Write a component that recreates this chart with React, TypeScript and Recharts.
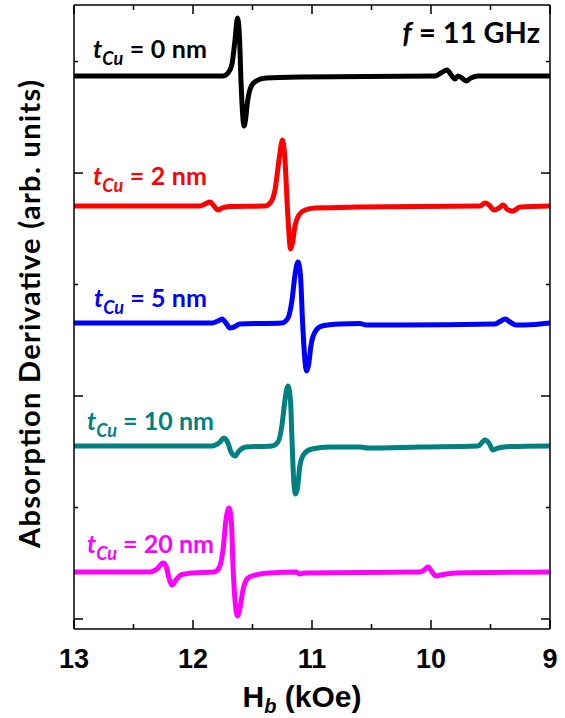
import React from "react";
import { LineChart, Line, XAxis, YAxis } from "recharts";

// H_b (kOe), absorption derivative (arb. units, offset per curve)
const tCu0nm: [number, number][] = [
  [13, 4.87], [11.748, 4.87], [11.706, 4.897], [11.672, 4.978], [11.647, 5.193], [11.626, 5.39],
  [11.609, 5.211], [11.597, 4.834], [11.584, 4.547], [11.571, 4.422], [11.559, 4.475], [11.542, 4.637],
  [11.517, 4.762], [11.471, 4.825], [11.387, 4.852], [11.101, 4.861], [9.966, 4.87], [9.916, 4.897],
  [9.866, 4.924], [9.824, 4.87], [9.798, 4.843], [9.773, 4.87], [9.739, 4.852], [9.706, 4.825],
  [9.664, 4.852], [9.605, 4.87], [9, 4.87],
];
const tCu2nm: [number, number][] = [
  [13, 3.704], [11.941, 3.704], [11.899, 3.722], [11.857, 3.74], [11.824, 3.704], [11.79, 3.668],
  [11.756, 3.686], [11.689, 3.7], [11.395, 3.704], [11.345, 3.74], [11.311, 3.848], [11.277, 4.117],
  [11.248, 4.296], [11.227, 4.117], [11.21, 3.758], [11.193, 3.444], [11.181, 3.318], [11.164, 3.372],
  [11.143, 3.525], [11.109, 3.623], [11.059, 3.668], [10.975, 3.686], [10.597, 3.695], [9.588, 3.704],
  [9.546, 3.731], [9.513, 3.713], [9.471, 3.668], [9.429, 3.686], [9.395, 3.713], [9.353, 3.668],
  [9.311, 3.659], [9.252, 3.695], [9, 3.704],
];
const tCu5nm: [number, number][] = [
  [13, 2.655], [11.84, 2.655], [11.79, 2.673], [11.756, 2.691], [11.723, 2.655], [11.689, 2.61],
  [11.655, 2.619], [11.605, 2.646], [11.252, 2.655], [11.202, 2.7], [11.168, 2.861], [11.143, 3.085],
  [11.118, 3.202], [11.097, 3.085], [11.08, 2.682], [11.063, 2.368], [11.046, 2.224], [11.029, 2.278],
  [11.008, 2.457], [10.975, 2.574], [10.916, 2.628], [10.765, 2.646], [10.597, 2.65], [10.546, 2.637],
  [10.261, 2.637], [9.462, 2.646], [9.412, 2.673], [9.378, 2.691], [9.336, 2.664], [9.286, 2.637],
  [9.21, 2.637], [9, 2.655],
];
const tCu10nm: [number, number][] = [
  [13, 1.552], [11.84, 1.552], [11.782, 1.578], [11.739, 1.623], [11.706, 1.578], [11.681, 1.498],
  [11.647, 1.462], [11.613, 1.507], [11.555, 1.543], [11.336, 1.552], [11.286, 1.587], [11.252, 1.74],
  [11.227, 1.964], [11.202, 2.09], [11.181, 1.964], [11.168, 1.605], [11.156, 1.291], [11.139, 1.121],
  [11.122, 1.175], [11.101, 1.381], [11.067, 1.48], [11.0, 1.525], [10.849, 1.543], [10.597, 1.543],
  [10.529, 1.534], [10.092, 1.543], [9.605, 1.552], [9.546, 1.605], [9.513, 1.578], [9.479, 1.516],
  [9.437, 1.534], [9.336, 1.547], [9, 1.552],
];
const tCu20nm: [number, number][] = [
  [13, 0.422], [12.361, 0.422], [12.303, 0.448], [12.252, 0.502], [12.227, 0.475], [12.202, 0.368],
  [12.176, 0.305], [12.143, 0.35], [12.101, 0.395], [12.008, 0.413], [11.824, 0.422], [11.782, 0.457],
  [11.748, 0.619], [11.723, 0.888], [11.697, 0.996], [11.676, 0.843], [11.664, 0.484], [11.647, 0.17],
  [11.626, 0.027], [11.605, 0.099], [11.58, 0.26], [11.538, 0.368], [11.471, 0.395], [11.353, 0.413],
  [11.134, 0.422], [11.101, 0.404], [11.059, 0.413], [10.092, 0.422], [10.059, 0.439], [10.025, 0.466],
  [9.992, 0.422], [9.958, 0.386], [9.916, 0.395], [9.798, 0.413], [9, 0.422],
];

const seriesLabels = ["0 nm", "2 nm", "5 nm", "10 nm", "20 nm"];
const seriesColors = ["#000000", "#ff0000", "#0000ff", "#008080", "#ff00ff"];
const seriesData = [tCu0nm, tCu2nm, tCu5nm, tCu10nm, tCu20nm];
const xTicks = [9, 9.5, 10, 10.5, 11, 11.5, 12, 12.5, 13];
const yTicks = [0, 1, 2, 3, 4, 5];
const xDomain: [number, number] = [9, 13];
const yDomain: [number, number] = [-0.0897, 5.507];

const W = 565;
const H = 718;
const labelBaselines = [58, 185, 307, 430, 553];
const labelX = [93, 93, 94, 87, 87];
const labelLen = [114, 114, 113, 127, 127];

const calibri = "Lato, 'Open Sans', sans-serif";
const arial = "'Liberation Sans', Arial, sans-serif";

const BottomTick = (props: any) => {
  const { x, y, payload } = props;
  const v = payload.value;
  const major = Number.isInteger(v);
  return (
    <g>
      <line x1={x} x2={x} y1={y} y2={y - (major ? 9 : 5)} stroke="#000" strokeWidth={1.5} />
      {major && (
        <text x={x} y={y + 39} textAnchor="middle" fontFamily={arial} fontWeight={700} fontSize={27} fill="#000">
          {v}
        </text>
      )}
    </g>
  );
};
const TopTick = (props: any) => {
  const { x, y, payload } = props;
  const major = Number.isInteger(payload.value);
  return <line x1={x} x2={x} y1={y} y2={y + (major ? 9 : 5)} stroke="#000" strokeWidth={1.5} />;
};
const LeftTick = (props: any) => {
  const { x, y, payload } = props;
  const major = payload.value % 2 === 0;
  return <line x1={x} x2={x + (major ? 9 : 4)} y1={y} y2={y} stroke="#000" strokeWidth={1.5} />;
};
const RightTick = (props: any) => {
  const { x, y, payload } = props;
  const major = payload.value % 2 === 0;
  return <line x1={x} x2={x - (major ? 9 : 4)} y1={y} y2={y} stroke="#000" strokeWidth={1.5} />;
};

export default function App() {
  return (
    <div style={{ position: "absolute", left: 0, top: 0, width: W, height: H, background: "#fff" }}>
      <LineChart width={W} height={H} margin={{ top: 4, right: 14, bottom: 59, left: 73 }}>
        <XAxis
          xAxisId="b"
          type="number"
          dataKey="h"
          domain={xDomain}
          reversed
          ticks={xTicks}
          interval={0}
          allowDataOverflow
          height={30}
          tickSize={0}
          tickMargin={0}
          tickLine={false}
          axisLine={{ stroke: "#000", strokeWidth: 1.5 }}
          tick={<BottomTick />}
        />
        <XAxis
          xAxisId="t"
          orientation="top"
          type="number"
          dataKey="h"
          domain={xDomain}
          reversed
          ticks={xTicks}
          interval={0}
          allowDataOverflow
          height={1}
          tickSize={0}
          tickMargin={0}
          tickLine={false}
          axisLine={{ stroke: "#000", strokeWidth: 1.5 }}
          tick={<TopTick />}
        />
        <YAxis
          yAxisId="l"
          type="number"
          domain={yDomain}
          ticks={yTicks}
          interval={0}
          allowDataOverflow
          width={1}
          tickSize={0}
          tickMargin={0}
          tickLine={false}
          axisLine={{ stroke: "#000", strokeWidth: 1.5 }}
          tick={<LeftTick />}
        />
        <YAxis
          yAxisId="r"
          orientation="right"
          type="number"
          domain={yDomain}
          ticks={yTicks}
          interval={0}
          allowDataOverflow
          width={1}
          tickSize={0}
          tickMargin={0}
          tickLine={false}
          axisLine={{ stroke: "#000", strokeWidth: 1.5 }}
          tick={<RightTick />}
        />
        {seriesData.map((s, i) => (
          <Line
            key={i}
            xAxisId="b"
            yAxisId="l"
            data={s.map(([h, v]) => ({ h, v }))}
            dataKey="v"
            type="monotone"
            stroke={seriesColors[i]}
            strokeWidth={5}
            strokeLinejoin="round"
            strokeLinecap="round"
            dot={false}
            activeDot={false}
            isAnimationActive={false}
          />
        ))}
      </LineChart>
      <svg width={W} height={H} style={{ position: "absolute", left: 0, top: 0, pointerEvents: "none" }}>
        <text
          transform="translate(40,314) rotate(-90)"
          textAnchor="middle"
          fontFamily={calibri}
          fontWeight={700}
          fontSize={29}
          textLength={468}
          lengthAdjust="spacing"
          fill="#000"
        >
          Absorption Derivative (arb. units)
        </text>
        <text x={302} y={707} textAnchor="middle" fontFamily={arial} fontWeight={700} fontSize={30} fill="#000">
          H<tspan fontStyle="italic" fontSize={20} dy={6}>b</tspan>
          <tspan dy={-6}> (kOe)</tspan>
        </text>
        <text x={540} y={43} textAnchor="end" fontFamily={calibri} fontWeight={700} fontSize={29} fill="#000">
          <tspan fontStyle="italic">f</tspan> = 11 GHz
        </text>
        {seriesLabels.map((lab, i) => (
          <text
            key={i}
            x={labelX[i]}
            y={labelBaselines[i]}
            fontFamily={calibri}
            fontWeight={700}
            fontSize={25}
            textLength={labelLen[i]}
            lengthAdjust="spacing"
            fill={seriesColors[i]}
          >
            <tspan fontStyle="italic">t</tspan>
            <tspan fontStyle="italic" fontSize={18} dy={7}>Cu</tspan>
            <tspan dy={-7}> = {lab}</tspan>
          </text>
        ))}
      </svg>
    </div>
  );
}
